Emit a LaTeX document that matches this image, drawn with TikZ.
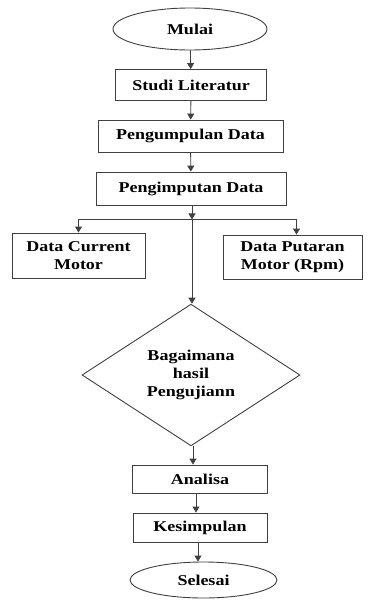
\documentclass[tikz,border=0pt]{standalone}
\usepackage{fontspec}
\setmainfont{Liberation Serif}[FakeStretch=1.2]
\usetikzlibrary{arrows.meta, positioning, shapes.geometric, calc}
\definecolor{cline}{HTML}{404040}
\tikzset{
  every picture/.style={font=\fontsize{15}{18}\selectfont\bfseries, line width=0.9pt},
  box/.style={draw=cline, rectangle, align=center, inner sep=2pt},
  term/.style={draw=cline, ellipse, align=center, inner sep=1pt},
  decision/.style={draw=cline, diamond, align=center, inner sep=1pt},
  arrow/.style={-{Triangle[length=6pt, width=7pt]}, draw=cline},
}

\begin{document}
\begin{tikzpicture}[x=1pt, y=-1pt]
  \useasboundingbox (0,0) rectangle (368,600);
  % start and preparation
  \node[term, minimum width=154pt, minimum height=42pt] (mulai) at (190,29) {Mulai};
  \node[box, minimum width=151pt, minimum height=31pt] (studi) at (191,85) {Studi Literatur};
  \node[box, minimum width=185pt, minimum height=32pt] (kumpul) at (190.5,136) {Pengumpulan Data};
  \node[box, minimum width=190pt, minimum height=33pt] (imput) at (191,188.5) {Pengimputan Data};
  % data
  \node[box, minimum width=133pt, minimum height=45pt] (current) at (78.5,255.5) {Data Current\\Motor};
  \node[box, minimum width=139pt, minimum height=44pt] (putaran) at (292.5,257) {Data Putaran\\Motor (Rpm)};
  % decision and end
  \node[decision, minimum width=218pt, minimum height=136pt] (uji) at (191,375) {Bagaimana\\hasil\\Pengujiann};
  \node[box, minimum width=135pt, minimum height=28pt] (analisa) at (200,479) {Analisa};
  \node[box, minimum width=134pt, minimum height=29pt] (simpul) at (200,527.5) {Kesimpulan};
  \node[term, minimum width=147pt, minimum height=36pt] (selesai) at (203.5,580) {Selesai};
  \coordinate (cabang) at ($(imput.south)+(1,14)$);
  \coordinate (kanan) at ($(putaran.north)+(4,0)$);
  \coordinate (ujibawah) at ($(uji.south)+(2,0)$);
  \coordinate (simpulbawah) at ($(simpul.south)+(-2,0)$);
  % connectors
  \draw[arrow] (mulai) -- (studi);
  \draw[arrow] (studi) -- (kumpul);
  \draw[arrow] (kumpul) -- (imput);
  \draw[arrow] (imput.south -| cabang) -- (cabang);
  \draw[arrow] (cabang) -| (current.north);
  \draw[arrow] (cabang) -| (kanan);
  \draw[arrow] (cabang) -- (cabang |- uji.north);
  \draw[arrow] (ujibawah) -- (ujibawah |- analisa.north);
  \draw[arrow] ($(analisa.south)+(-4,0)$) -- ($(simpul.north)+(-4,0)$);
  \draw[arrow] (simpulbawah) -- (simpulbawah |- selesai.north);
\end{tikzpicture}
\end{document}
